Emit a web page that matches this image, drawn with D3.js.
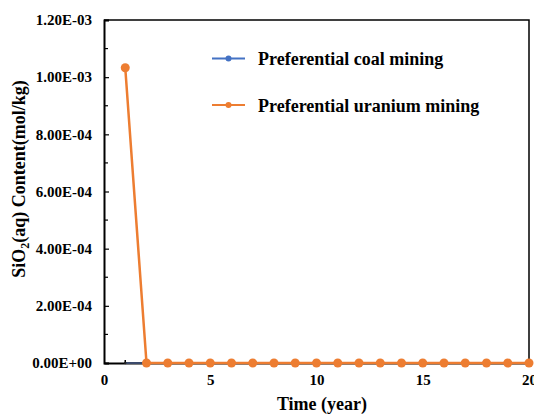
<!DOCTYPE html>
<html>
<head>
<meta charset="utf-8">
<script src="https://cdn.jsdelivr.net/npm/d3@7"></script>
<style>
  body { margin: 0; background: #fff; }
  text { font-family: "Liberation Serif", "Times New Roman", serif; font-weight: bold; }
</style>
</head>
<body>
<div id="chart"></div>
<script>
var years = [1, 2, 3, 4, 5, 6, 7, 8, 9, 10, 11, 12, 13, 14, 15, 16, 17, 18, 19, 20];
var coalValues = [0, 0, 0, 0, 0, 0, 0, 0, 0, 0, 0, 0, 0, 0, 0, 0, 0, 0, 0, 0];
var uraniumValues = [1.033e-3, 0, 0, 0, 0, 0, 0, 0, 0, 0, 0, 0, 0, 0, 0, 0, 0, 0, 0, 0];
var seriesNames = ["Preferential coal mining", "Preferential uranium mining"];
var xTicks = [0, 5, 10, 15, 20];
var yTicks = [0, 2e-4, 4e-4, 6e-4, 8e-4, 1e-3, 1.2e-3];
var yTickLabels = ["0.00E+00", "2.00E-04", "4.00E-04", "6.00E-04", "8.00E-04", "1.00E-03", "1.20E-03"];
var colors = ["#4472C4", "#ED7D31"];

(function () {
    var width = 534, height = 416;
    var plotLeft = 104, plotRight = 529, plotTop = 20, plotBottom = 363;

    var svg = d3.select("#chart").append("svg")
        .attr("width", width)
        .attr("height", height);

    var x = d3.scaleLinear().domain([0, 20]).range([plotLeft, plotRight]);
    var y = d3.scaleLinear().domain([0, 1.2e-3]).range([plotBottom, plotTop]);

    // frame (top / right)
    svg.append("path")
        .attr("d", "M" + plotLeft + "," + plotTop + "H" + plotRight + "V" + plotBottom)
        .attr("fill", "none")
        .attr("stroke", "#000")
        .attr("stroke-width", 1.5);

    // minor ticks on y, inside
    svg.selectAll(".minor").data(d3.range(1, 12, 2).map(function (d) { return d * 1e-4; }))
        .enter().append("line")
        .attr("x1", plotLeft).attr("x2", plotLeft + 4)
        .attr("y1", function (d) { return y(d); })
        .attr("y2", function (d) { return y(d); })
        .attr("stroke", "#000").attr("stroke-width", 1.2);

    // y axis
    var yAxis = d3.axisLeft(y)
        .tickValues(yTicks)
        .tickSize(-5)
        .tickPadding(12)
        .tickFormat(function (d, i) { return yTickLabels[i]; });
    var gy = svg.append("g").attr("transform", "translate(" + plotLeft + ",0)").call(yAxis);
    gy.select(".domain").attr("stroke-width", 2);
    gy.selectAll(".tick line").attr("stroke-width", 1.2);
    gy.selectAll("text").attr("font-size", 15).attr("fill", "#000")
        .style("font-family", "'Liberation Serif', serif").style("font-weight", "bold");

    // x axis
    var xAxis = d3.axisBottom(x).tickValues(xTicks).tickSize(0).tickPadding(11);
    var gx = svg.append("g").attr("transform", "translate(0," + plotBottom + ")").call(xAxis);
    gx.select(".domain").attr("stroke-width", 2);
    gx.selectAll("text").attr("font-size", 15).attr("fill", "#000")
        .style("font-family", "'Liberation Serif', serif").style("font-weight", "bold");

    // small mark at year 1 on the baseline
    svg.append("line")
        .attr("x1", x(years[0])).attr("x2", x(years[0]))
        .attr("y1", plotBottom).attr("y2", plotBottom - 3)
        .attr("stroke", "#000").attr("stroke-width", 1.5);

    // series
    var line = d3.line()
        .x(function (d) { return x(d[0]); })
        .y(function (d) { return y(d[1]); });

    [coalValues, uraniumValues].forEach(function (vals, k) {
        var pts = years.map(function (yr, i) { return [yr, vals[i]]; });
        svg.append("path")
            .datum(pts)
            .attr("d", line)
            .attr("fill", "none")
            .attr("stroke", k === 0 ? "#3b4a6b" : colors[k])
            .attr("stroke-width", k === 0 ? 2 : 2.5);
        svg.selectAll(".pt" + k).data(pts).enter().append("circle")
            .attr("cx", function (d) { return x(d[0]); })
            .attr("cy", function (d) { return y(d[1]); })
            .attr("r", k === 0 ? 1.2 : 4.5)
            .attr("fill", k === 0 ? "#222" : colors[k]);
    });

    // legend
    seriesNames.forEach(function (name, k) {
        var ly = 58.5 + k * 46.5;
        svg.append("line")
            .attr("x1", 212).attr("x2", 245)
            .attr("y1", ly).attr("y2", ly)
            .attr("stroke", colors[k]).attr("stroke-width", 2);
        svg.append("circle")
            .attr("cx", 228.5).attr("cy", ly).attr("r", 3)
            .attr("fill", colors[k]);
        svg.append("text")
            .attr("x", 258).attr("y", ly + 6.5)
            .attr("font-size", 18)
            .text(name);
    });

    // axis titles
    svg.append("text")
        .attr("x", 322)
        .attr("y", 410)
        .attr("text-anchor", "middle")
        .attr("font-size", 18)
        .text("Time (year)");

    var yt = svg.append("text")
        .attr("transform", "translate(25,179) rotate(-90)")
        .attr("text-anchor", "middle")
        .attr("font-size", 18);
    yt.append("tspan").text("SiO");
    yt.append("tspan").attr("font-size", 12).attr("dy", 4).text("2");
    yt.append("tspan").attr("dy", -4).text("(aq) Content(mol/kg)");
})();
</script>
</body>
</html>
